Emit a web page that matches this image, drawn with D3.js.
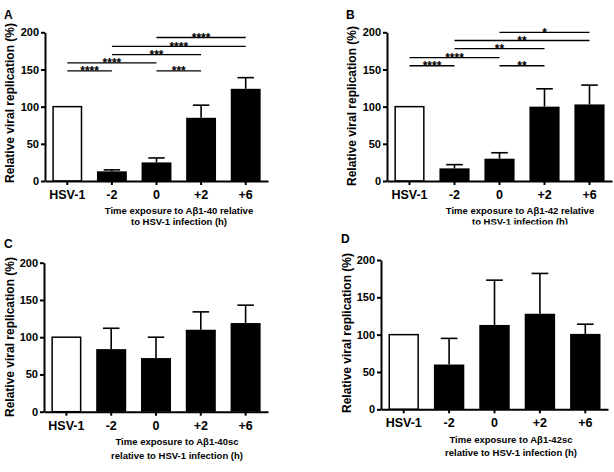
<!DOCTYPE html>
<html>
<head>
<meta charset="utf-8">
<script src="https://cdn.jsdelivr.net/npm/d3@7/dist/d3.min.js"></script>
<style>
  body { margin: 0; background: #fff; }
  text { font-family: "Liberation Sans", Arial, sans-serif; font-weight: bold; }
</style>
</head>
<body>
<svg width="614" height="472"></svg>
<script>
// Data
var categories = ["HSV-1", "-2", "0", "+2", "+6"];
var yTicks = [0, 50, 100, 150, 200];

var meanA = [100, 13, 25, 85, 124];
var semA  = [0, 2, 6, 17, 15];
var meanB = [100, 17, 30, 100, 103];
var semB  = [0, 5, 8, 24, 26];
var meanC = [100, 84, 72, 110, 119];
var semC  = [0, 28, 28, 24, 24];
var meanD = [100, 60, 113, 128, 101];
var semD  = [0, 35, 60, 54, 13];

// significance brackets: from, to, level (y value), stars
var sigA = [
    ["0", "+6", 193, "****"],
    ["-2", "+6", 181, "****"],
    ["-2", "+2", 170, "***"],
    ["HSV-1", "0", 159, "****"],
    ["HSV-1", "-2", 148, "****"],
    ["0", "+2", 148, "***"]
];
var sigB = [
    ["0", "+6", 200, "*"],
    ["-2", "+6", 189, "**"],
    ["-2", "+2", 178, "**"],
    ["HSV-1", "0", 166, "****"],
    ["HSV-1", "-2", 155, "****"],
    ["0", "+2", 155, "**"]
];

var svg = d3.select("svg");

// panel placements
var panels = [
    { letter: "A", mean: meanA, sem: semA, sig: sigA, x0: 45, x1: 268, yb: 181, yt: 32.3,
      lx: 4, ly: 19, ylx: 10, yly: 103,
      title: ["Time exposure to A\u03b21-40 relative", "to HSV-1 infection (h)"], tx: 179, ty: 213.5, tdy: 11.5 },
    { letter: "B", mean: meanB, sem: semB, sig: sigB, x0: 387, x1: 612, yb: 181, yt: 32.3,
      lx: 346, ly: 19, ylx: 352, yly: 106,
      title: ["Time exposure to A\u03b21-42 relative", "to HSV-1 infection (h)"], tx: 520, ty: 213.5, tdy: 11.5, clip: 224.5 },
    { letter: "C", mean: meanC, sem: semC, sig: [], x0: 44, x1: 268, yb: 411.7, yt: 262.7,
      lx: 4, ly: 248, ylx: 10, yly: 337,
      title: ["Time exposure to A\u03b21-40sc", "relative to HSV-1 infection (h)"], tx: 177, ty: 445, tdy: 14 },
    { letter: "D", mean: meanD, sem: semD, sig: [], x0: 381, x1: 608, yb: 409.3, yt: 260,
      lx: 341, ly: 243, ylx: 347, yly: 333,
      title: ["Time exposure to A\u03b21-42sc", "relative to HSV-1 infection (h)"], tx: 511, ty: 442.5, tdy: 13 }
];

svg.append("defs").append("clipPath")
    .attr("id", "clipB")
    .append("rect")
    .attr("x", 300).attr("y", 0).attr("width", 314).attr("height", 224.5);

panels.forEach(function(p) {
    var g = svg.append("g");

    var x = d3.scaleBand()
        .domain(categories)
        .range([p.x0, p.x1])
        .paddingInner(0.33)
        .paddingOuter(0.165);

    var y = d3.scaleLinear()
        .domain([0, 200])
        .range([p.yb, p.yt]);

    var data = categories.map(function(c, i) {
        return { cat: c, mean: p.mean[i], sem: p.sem[i], i: i };
    });

    // bars
    g.selectAll("rect.bar")
        .data(data)
        .enter().append("rect")
        .attr("class", "bar")
        .attr("x", (d) => d.i == 0 ? x(d.cat) + 0.75 : x(d.cat))
        .attr("width", (d) => d.i == 0 ? x.bandwidth() - 1.5 : x.bandwidth())
        .attr("y", (d) => y(d.mean))
        .attr("height", (d) => y(0) - y(d.mean))
        .attr("fill", (d) => d.i == 0 ? "#fff" : "#000")
        .attr("stroke", "#000")
        .attr("stroke-width", (d) => d.i == 0 ? 1.5 : 0);

    // error bars (upper only)
    var cap = x.bandwidth() * 0.55;
    var err = g.selectAll("g.err")
        .data(data.filter((d) => d.sem > 0))
        .enter().append("g")
        .attr("class", "err");

    err.append("line")
        .attr("x1", (d) => x(d.cat) + x.bandwidth() / 2)
        .attr("x2", (d) => x(d.cat) + x.bandwidth() / 2)
        .attr("y1", (d) => y(d.mean))
        .attr("y2", (d) => y(d.mean + d.sem))
        .attr("stroke", "#000")
        .attr("stroke-width", 1.6);

    err.append("line")
        .attr("x1", (d) => x(d.cat) + x.bandwidth() / 2 - cap / 2)
        .attr("x2", (d) => x(d.cat) + x.bandwidth() / 2 + cap / 2)
        .attr("y1", (d) => y(d.mean + d.sem))
        .attr("y2", (d) => y(d.mean + d.sem))
        .attr("stroke", "#000")
        .attr("stroke-width", 1.6);

    // axes
    var yAxis = g.append("g")
        .attr("transform", "translate(" + p.x0 + ",0)")
        .call(d3.axisLeft(y).tickValues(yTicks).tickSize(4).tickPadding(2).tickSizeOuter(0));

    var xAxis = g.append("g")
        .attr("transform", "translate(0," + p.yb + ")")
        .call(d3.axisBottom(x).tickSize(4).tickPadding(5).tickSizeOuter(0));

    [yAxis, xAxis].forEach(function(a) {
        a.selectAll("path, line").attr("stroke", "#000").attr("stroke-width", 2);
        a.selectAll("text").attr("fill", "#000");
    });
    yAxis.selectAll("text").style("font-size", "11px");
    xAxis.selectAll("text").style("font-size", "12.5px");

    // significance brackets
    var sig = g.selectAll("g.sig")
        .data(p.sig)
        .enter().append("g")
        .attr("class", "sig");

    var cx = (c) => x(c) + x.bandwidth() / 2;

    sig.append("line")
        .attr("x1", (d) => cx(d[0]))
        .attr("x2", (d) => cx(d[1]))
        .attr("y1", (d) => y(d[2]))
        .attr("y2", (d) => y(d[2]))
        .attr("stroke", "#000")
        .attr("stroke-width", 1.3);

    sig.append("text")
        .attr("x", (d) => (cx(d[0]) + cx(d[1])) / 2)
        .attr("y", (d) => y(d[2]) + 4.5)
        .attr("text-anchor", "middle")
        .style("font-size", "12px")
        .text((d) => d[3]);

    // y label
    g.append("text")
        .attr("transform", "translate(" + p.ylx + "," + p.yly + ") rotate(-90)")
        .attr("dy", "0.35em")
        .attr("text-anchor", "middle")
        .style("font-size", "12px")
        .text("Relative viral replication (%)");

    // x title
    var t = g.append("g");
    if (p.clip) t.attr("clip-path", "url(#clipB)");
    t.selectAll("text")
        .data(p.title)
        .enter().append("text")
        .attr("x", p.tx)
        .attr("y", (d, i) => p.ty + i * p.tdy)
        .attr("text-anchor", "middle")
        .style("font-size", "9.5px")
        .text((d) => d);

    // panel letter
    g.append("text")
        .attr("x", p.lx)
        .attr("y", p.ly)
        .style("font-size", "12px")
        .text(p.letter);
});
</script>
</body>
</html>
